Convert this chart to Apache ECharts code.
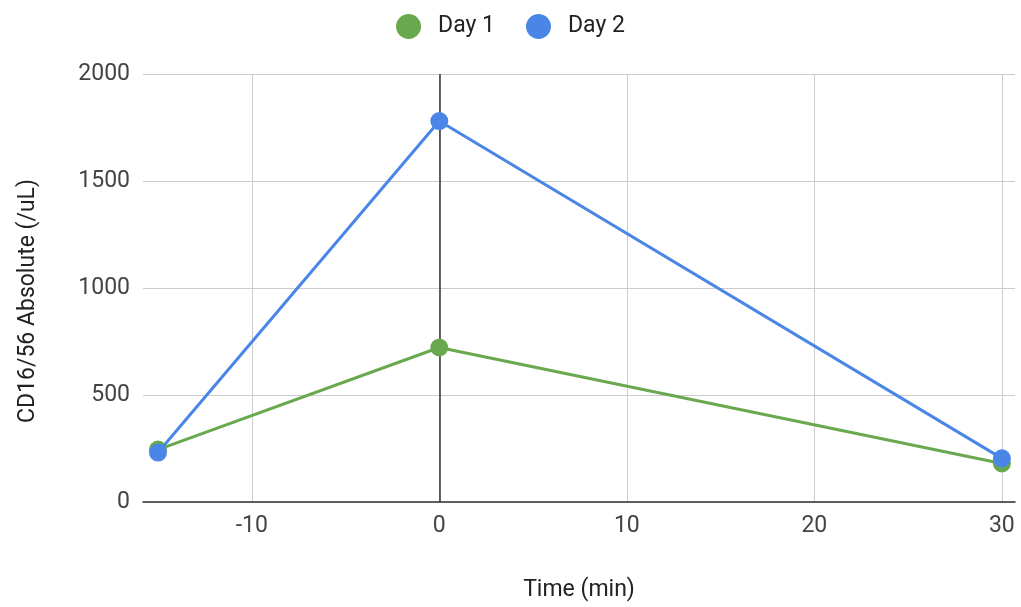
<!DOCTYPE html>
<html>
<head>
<meta charset="utf-8">
<script src="https://cdn.jsdelivr.net/npm/echarts@6/dist/echarts.min.js"></script>
<style>
  html, body { margin: 0; padding: 0; background: #fff; }
  #chart { width: 1021px; height: 607px; }
</style>
</head>
<body>
<div id="chart"></div>
<script>
// Time points (minutes) and CD16/56 absolute counts per day
const timePoints = [-15, 0, 30];
const day1Values = [245, 722, 180];
const day2Values = [231, 1780, 204];
const xTickValues = [-10, 0, 10, 20, 30];
const yTickValues = [0, 500, 1000, 1500, 2000];

const FONT = 'Roboto, "Noto Sans", Arial, sans-serif';
const FS = 23;

const pairs = (xs, ys) => xs.map((x, i) => [x, ys[i]]);

const chart = echarts.init(document.getElementById('chart'), null, { renderer: 'canvas' });

chart.setOption({
  backgroundColor: '#ffffff',
  animation: false,
  textStyle: { fontFamily: FONT },
  legend: {
    top: 9,
    left: 'center',
    icon: 'circle',
    itemWidth: 25,
    itemHeight: 25,
    itemGap: 31,
    textStyle: { fontSize: FS, color: '#222', fontFamily: FONT, padding: [0, 0, 0, 12] },
    data: ['Day 1', 'Day 2']
  },
  grid: { left: 143, right: 6, top: 74, bottom: 105, containLabel: false },
  xAxis: {
    type: 'value',
    min: -15.8,
    max: 30.7,
    name: 'Time (min)',
    nameLocation: 'middle',
    nameGap: 77,
    nameTextStyle: { fontSize: FS, color: '#222', fontFamily: FONT },
    axisLine: { show: true, onZero: false, lineStyle: { color: '#333', width: 1.5 } },
    axisTick: { show: false, customValues: xTickValues },
    axisLabel: { customValues: xTickValues, fontSize: FS, color: '#444', margin: 13, fontFamily: FONT },
    splitLine: { show: true, lineStyle: { color: '#cccccc', width: 1 } }
  },
  yAxis: {
    type: 'value',
    min: 0,
    max: 2000,
    interval: 500,
    name: 'CD16/56 Absolute (/uL)',
    nameLocation: 'middle',
    nameGap: 103,
    nameTextStyle: { fontSize: FS, color: '#222', fontFamily: FONT, padding: [0, 26, 0, 0] },
    axisLine: { show: false },
    axisTick: { show: false, customValues: yTickValues },
    axisLabel: {
      customValues: yTickValues,
      fontSize: FS, color: '#444', margin: 13, fontFamily: FONT,
      formatter: (v) => String(v)
    },
    splitLine: { show: true, lineStyle: { color: '#cccccc', width: 1 } }
  },
  series: [
    {
      name: 'Day 1',
      type: 'line',
      data: pairs(timePoints, day1Values),
      color: '#6aa84f',
      symbol: 'circle',
      symbolSize: 18,
      lineStyle: { width: 3 },
      z: 3,
      markLine: {
        silent: true,
        symbol: 'none',
        label: { show: false },
        lineStyle: { color: '#333', width: 1.5, type: 'solid' },
        data: [{ xAxis: 0 }],
        z: 1
      }
    },
    {
      name: 'Day 2',
      type: 'line',
      data: pairs(timePoints, day2Values),
      color: '#4a86e8',
      symbol: 'circle',
      symbolSize: 18,
      lineStyle: { width: 3 },
      z: 4
    }
  ]
});
</script>
</body>
</html>
